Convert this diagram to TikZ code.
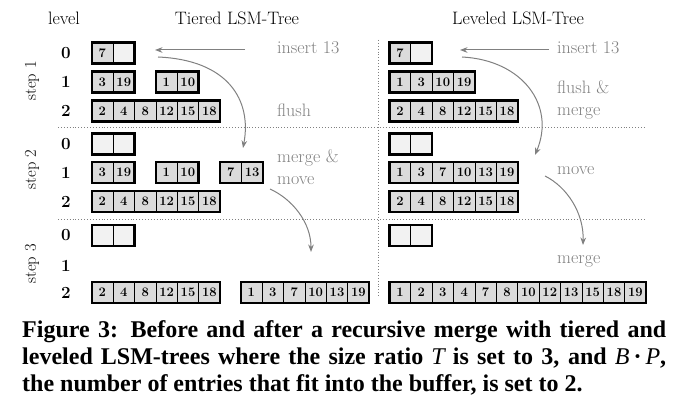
\documentclass[tikz,border=0pt]{standalone}
\usepackage{fontspec}
\newfontfamily\capfont{Liberation Serif}
\usetikzlibrary{arrows.meta}
\definecolor{cellgray}{gray}{0.86}
\definecolor{bufgray}{gray}{0.95}
\definecolor{notegray}{gray}{0.5}
\tikzset{>=Stealth,
  cell/.style={draw, line width=0.8pt, minimum width=21.4pt, minimum height=21pt, inner sep=0pt, outer sep=0pt, fill=cellgray, font=\fontsize{13}{13}\selectfont\bfseries},
  runframe/.style={draw, line width=2.4pt},
  note/.style={anchor=base west, text=notegray, inner sep=0pt, font=\fontsize{18}{22}\selectfont},
  head/.style={anchor=base, inner sep=0pt, font=\fontsize{18}{18}\selectfont},
  lvl/.style={inner sep=0pt, font=\fontsize{17}{17}\selectfont\bfseries},
  steplbl/.style={rotate=90, inner sep=0pt, font=\fontsize{16.5}{16.5}\selectfont},
  flow/.style={->, draw=notegray, line width=1pt},
  sep/.style={dotted, draw=notegray, line width=0.9pt}}
\newcommand{\lsmrun}[4]{%
  \foreach \v [count=\i] in {#4} {
    \ifnum\v=0 \def\lsmfill{bufgray}\else\def\lsmfill{cellgray}\fi
    \node[cell, fill=\lsmfill] (#1-\i) at ({#2+(\i-0.5)*21.4}, #3) {\ifnum\v>0 \v\fi};
    \xdef\lsmlast{\i}
  }
  \draw[runframe] (#1-1.south west) rectangle (#1-\lsmlast.north east);
}

\begin{document}
\begin{tikzpicture}[x=1pt, y=-1pt]
  \useasboundingbox (0,0) rectangle (697,411);
  \node[head] (hlevel) at (64,25) {level};
  \node[head] (htier) at (237,25) {Tiered LSM-Tree};
  \node[head] (hlev) at (518,25) {Leveled LSM-Tree};
  \node[steplbl] (s1) at (32,81) {step 1};
  \node[steplbl] (s2) at (32,169.5) {step 2};
  \node[steplbl] (s3) at (32,264) {step 3};
  \node[lvl] (l10) at (66,53) {0};
  \node[lvl] (l11) at (66,82) {1};
  \node[lvl] (l12) at (66,111) {2};
  \node[lvl] (l20) at (66,144) {0};
  \node[lvl] (l21) at (66,172.5) {1};
  \node[lvl] (l22) at (66,201.5) {2};
  \node[lvl] (l30) at (66,235.5) {0};
  \node[lvl] (l31) at (66,266) {1};
  \node[lvl] (l32) at (66,292.5) {2};
  \draw[sep] (58,127.7) -- (645,127.7);
  \draw[sep] (58,219) -- (645,219);
  \draw[sep] (378.3,40) -- (378.3,297);
  \lsmrun{ta0}{91.7}{53}{7,0}
  \lsmrun{ta1a}{91.7}{82}{3,19}
  \lsmrun{ta1b}{155.7}{82}{1,10}
  \lsmrun{ta2}{91.7}{111}{2,4,8,12,15,18}
  \lsmrun{la0}{389.3}{53}{7,0}
  \lsmrun{la1}{389.3}{82}{1,3,10,19}
  \lsmrun{la2}{389.3}{111}{2,4,8,12,15,18}
  \lsmrun{tb0}{91.7}{144}{0,0}
  \lsmrun{tb1a}{91.7}{172.5}{3,19}
  \lsmrun{tb1b}{155.7}{172.5}{1,10}
  \lsmrun{tb1c}{220}{172.5}{7,13}
  \lsmrun{tb2}{91.7}{201.5}{2,4,8,12,15,18}
  \lsmrun{lb0}{389.3}{144}{0,0}
  \lsmrun{lb1}{389.3}{172.5}{1,3,7,10,13,19}
  \lsmrun{lb2}{389.3}{201.5}{2,4,8,12,15,18}
  \lsmrun{tc0}{91.7}{235.5}{0,0}
  \lsmrun{tc2a}{91.7}{292.5}{2,4,8,12,15,18}
  \lsmrun{tc2b}{240.7}{292.5}{1,3,7,10,13,19}
  \lsmrun{lc0}{389.3}{235.5}{0,0}
  \lsmrun{lc2}{389.3}{292.5}{1,2,3,4,7,8,10,12,13,15,18,19}
  \node[note] (tins) at (277,53.5) {insert 13};
  \node[note] (tflush) at (277,116.5) {flush};
  \node[note, align=left, anchor=north west] (tmm) at (277,150) {merge \&\\move};
  \node[note] (lins) at (557,53.5) {insert 13};
  \node[note, align=left, anchor=north west] (lfm) at (557,80.5) {flush \&\\merge};
  \node[note] (lmove) at (557,175) {move};
  \node[note] (lmerge) at (557,263.5) {merge};
  \coordinate (tin0) at (245,50);
  \coordinate (tin1) at (155,50);
  \coordinate (lin0) at (549,50);
  \coordinate (lin1) at (460,50);
  \coordinate (tf0) at (158,57);
  \coordinate (tf1) at (243,148);
  \coordinate (lf0) at (462,57);
  \coordinate (lf1) at (535,155);
  \coordinate (tm0) at (270,189);
  \coordinate (tm1) at (311,252);
  \coordinate (lm0) at (545,176);
  \coordinate (lm1) at (583,245);
  \draw[flow] (tin0) -- (tin1);
  \draw[flow] (lin0) -- (lin1);
  \draw[flow] (tf0) .. controls (228,60) and (252,100) .. (tf1);
  \draw[flow] (lf0) .. controls (522,60) and (556,105) .. (lf1);
  \draw[flow] (tm0) .. controls (292,199) and (311,222) .. (tm1);
  \draw[flow] (lm0) .. controls (567,187) and (584,213) .. (lm1);
  \node[anchor=base west, text width=644pt, align=justify, inner sep=0pt,
    font=\capfont\bfseries\fontsize{24}{27}\selectfont] (cap) at (22,337.5)
    {\hyphenpenalty 10000 Figure 3: Before and after a recursive merge with tiered and\linebreak leveled LSM-trees where the size ratio {\mdseries\itshape T} is set to 3, and {\mdseries\itshape B}\,·\,{\mdseries\itshape P},\linebreak the number of entries that fit into the buffer, is set to 2.};
\end{tikzpicture}
\end{document}
